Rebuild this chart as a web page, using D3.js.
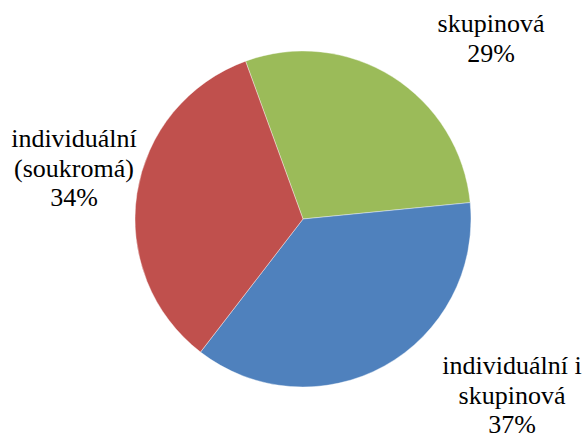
<!DOCTYPE html>
<html>
<head>
<meta charset="utf-8">
<script src="https://cdn.jsdelivr.net/npm/d3@7"></script>
</head>
<body style="margin:0">
<script>
var width = 587,
  height = 435;

var categories = ["skupinová", "individuální i skupinová", "individuální (soukromá)"];
var values = [29, 37, 34];
var labelLines = [
  ["skupinová", "29%"],
  ["individuální i", "skupinová", "37%"],
  ["individuální", "(soukromá)", "34%"]
];
var colors = ["#9BBB59", "#4F81BD", "#C0504D"];

var cx = 303,
  cy = 219,
  radius = 168;

var startAngle = -20 * Math.PI / 180;

var pie = d3.pie()
  .sort(null)
  .startAngle(startAngle)
  .endAngle(startAngle + 2 * Math.PI)
  .value(function(d) { return d; });

var arc = d3.arc()
  .innerRadius(0)
  .outerRadius(radius);

var svg = d3.select("body").append("svg")
  .attr("width", width)
  .attr("height", height);

// labels first (centre x, first baseline y), placed as in the original
var labelPos = [[491, 32], [512, 374], [74, 147]];
var lineHeight = 29.5;

labelLines.forEach(function(lines, i) {
  lines.forEach(function(line, j) {
    svg.append("text")
      .attr("x", labelPos[i][0])
      .attr("y", labelPos[i][1] + j * lineHeight)
      .attr("text-anchor", "middle")
      .style("font-family", "'Times New Roman'")
      .style("font-size", "26px")
      .text(line);
  });
});

var g = svg.insert("g", "text")
  .attr("transform", "translate(" + cx + "," + cy + ")");

g.selectAll("path.slice")
  .data(pie(values))
  .enter()
  .append("path")
    .attr("class", "slice")
    .attr("d", arc)
    .attr("fill", function(d, i) { return colors[i]; })
    .attr("stroke", "#fff")
    .attr("stroke-width", 0.4);
</script>
</body>
</html>
